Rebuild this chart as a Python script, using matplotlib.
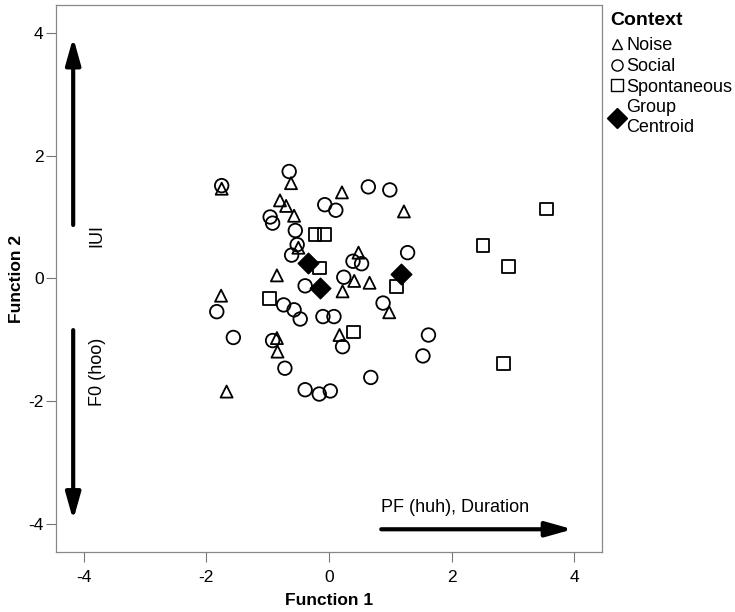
import matplotlib.pyplot as plt
from matplotlib.lines import Line2D

plt.rcParams['font.family'] = ['Liberation Sans', 'DejaVu Sans']
plt.rcParams['axes.unicode_minus'] = False

# Discriminant function scores
noise_x = [-1.75, -0.62, -0.80, -0.70, -0.57, -0.50, 0.21, 1.22, 0.48, -0.85,
           -1.76, -0.85, -0.84, -1.67, 0.41, 0.66, 0.22, 0.98, 0.17]
noise_y = [1.46, 1.55, 1.27, 1.18, 1.02, 0.50, 1.40, 1.09, 0.42, 0.05,
           -0.28, -0.97, -1.19, -1.84, -0.04, -0.07, -0.21, -0.55, -0.92]

social_x = [-1.75, -0.65, -0.96, -0.92, -0.55, -0.52, -0.61, -0.07, 0.11, 0.64,
            0.99, 1.28, 0.39, 0.53, -0.39, -0.74, -0.57, -0.47, -1.83, -0.10,
            0.08, -1.56, -0.92, -0.72, -0.39, -0.16, 0.02, 0.24, 0.88, 1.62,
            0.22, 1.53, 0.68]
social_y = [1.51, 1.74, 1.00, 0.90, 0.78, 0.55, 0.38, 1.20, 1.11, 1.49,
            1.44, 0.42, 0.28, 0.24, -0.12, -0.43, -0.51, -0.66, -0.54, -0.62,
            -0.62, -0.96, -1.01, -1.46, -1.81, -1.88, -1.83, 0.02, -0.40, -0.92,
            -1.11, -1.26, -1.61]

spont_x = [-0.23, -0.08, -0.16, -0.97, 1.10, 0.40, 2.51, 2.92, 3.55, 2.84]
spont_y = [0.71, 0.72, 0.17, -0.32, -0.13, -0.87, 0.53, 0.20, 1.13, -1.38]

centroid_x = [-0.34, -0.14, 1.18]
centroid_y = [0.25, -0.16, 0.07]


def main():
    fig = plt.figure(figsize=(7.35, 6.12), dpi=100)
    ax = fig.add_axes([0.0762, 0.098, 0.743, 0.894])

    style = dict(facecolor='none', edgecolor='black', linewidths=1.3, zorder=3)
    ax.scatter(noise_x, noise_y, marker='^', s=75, **style)
    ax.scatter(social_x, social_y, marker='o', s=95, **style)
    ax.scatter(spont_x, spont_y, marker='s', s=85, **style)
    ax.scatter(centroid_x, centroid_y, marker='D', s=110, color='black', zorder=4)

    # direction arrows
    arrow = dict(arrowstyle='-|>,head_width=0.45,head_length=1.6', color='black', lw=3,
                 shrinkA=0, shrinkB=0)
    ax.annotate('', xy=(-4.17, 3.92), xytext=(-4.17, 0.87), arrowprops=arrow)
    ax.annotate('', xy=(-4.17, -3.93), xytext=(-4.17, -0.84), arrowprops=arrow)
    ax.annotate('', xy=(3.97, -4.08), xytext=(0.85, -4.08), arrowprops=arrow)
    ax.text(-3.78, 0.7, 'IUI', rotation=90, ha='center', va='center', fontsize=13)
    ax.text(-3.78, -1.52, 'F0 (hoo)', rotation=90, ha='center', va='center', fontsize=13)
    ax.text(0.85, -3.72, 'PF (huh), Duration', ha='left', va='center', fontsize=13)

    ax.set_xlim(-4.45, 4.45)
    ax.set_ylim(-4.45, 4.45)
    ax.set_xticks([-4, -2, 0, 2, 4])
    ax.set_yticks([-4, -2, 0, 2, 4])
    ax.tick_params(direction='out', length=7, width=0.8, color='#777777',
                   labelsize=12.5, pad=2)
    ax.tick_params(axis='x', pad=6)
    for sp in ax.spines.values():
        sp.set_color('#888888')
        sp.set_linewidth(0.9)
    ax.set_xlabel('Function 1', fontsize=12.5, fontweight='bold', labelpad=6)
    ax.set_ylabel('Function 2', fontsize=12.5, fontweight='bold', labelpad=3)

    handles = [
        Line2D([], [], ls='none', marker='^', ms=7, mfc='none', mec='black', mew=1),
        Line2D([], [], ls='none', marker='o', ms=8, mfc='none', mec='black', mew=1),
        Line2D([], [], ls='none', marker='s', ms=8.5, mfc='none', mec='black', mew=1),
        Line2D([], [], ls='none', marker='D', ms=10, color='black'),
    ]
    labels = ['Noise', 'Social', 'Spontaneous', 'Group\nCentroid']
    leg = ax.legend(handles, labels, title='Context', loc='upper left',
                    bbox_to_anchor=(1.005, 0.997), frameon=False, fontsize=13,
                    handlelength=0.7, handletextpad=0.2, labelspacing=0.2,
                    borderaxespad=0.2, borderpad=0.1)
    leg.get_title().set_fontweight('bold')
    leg.get_title().set_fontsize(14)
    leg._legend_box.align = 'left'
    leg._legend_box.sep = 6

    fig.savefig('out.png', dpi=100)


if __name__ == '__main__':
    main()
